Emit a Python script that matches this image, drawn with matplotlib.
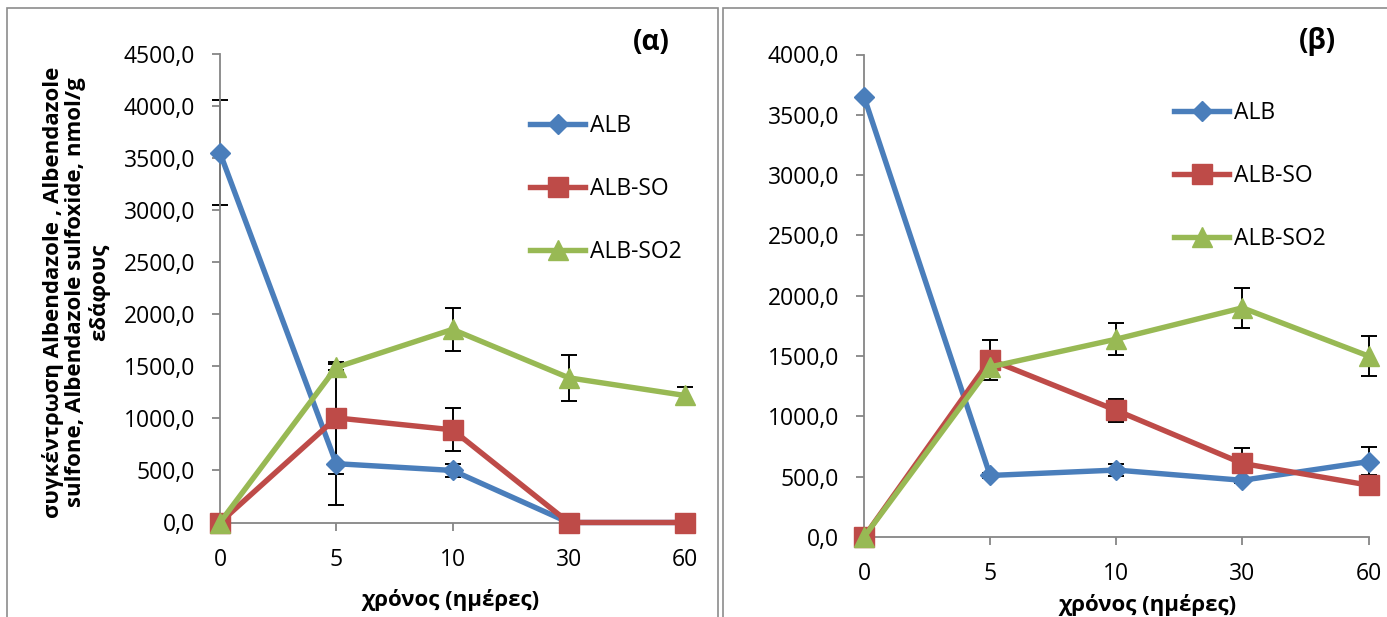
import matplotlib.pyplot as plt
from matplotlib.patches import Rectangle

plt.rcParams['font.family'] = ['Open Sans', 'DejaVu Sans']

days = ['0', '5', '10', '30', '60']
names = ['ALB', 'ALB-SO', 'ALB-SO2']
colors = ['#4A7EBB', '#BE4B48', '#98B954']
markers = ['D', 's', '^']

# panel (α)
alb_a = [3550, 565, 500, 0, 0]
alb_a_err = [505, 400, 65, 0, 0]
so_a = [0, 1005, 890, 0, 0]
so_a_err = [0, 540, 205, 0, 0]
so2_a = [0, 1490, 1855, 1390, 1220]
so2_a_err = [0, 30, 205, 220, 80]

# panel (β)
alb_b = [3650, 510, 555, 470, 625]
alb_b_err = [0, 20, 50, 20, 120]
so_b = [0, 1470, 1050, 610, 430]
so_b_err = [0, 165, 95, 125, 85]
so2_b = [0, 1410, 1640, 1900, 1500]
so2_b_err = [0, 40, 135, 165, 165]

W, H = 1387, 617
fig = plt.figure(figsize=(W / 100, H / 100), dpi=100)

# chart area frames
fig.add_artist(Rectangle((7 / W, -0.1), (718 - 7) / W, 1.1 - 8 / H, transform=fig.transFigure,
                         fill=False, ec='#8c8c8c', lw=1.2))
fig.add_artist(Rectangle((723 / W, -0.1), 0.6, 1.1 - 8 / H, transform=fig.transFigure,
                         fill=False, ec='#8c8c8c', lw=1.2))


def make_axes(px_left, px_right, px_zero, px_top):
    return fig.add_axes([px_left / W, 1 - px_zero / H,
                         (px_right - px_left) / W, (px_zero - px_top) / H])


def draw(ax, data, errs, ymax, leg_xy):
    x = list(range(len(days)))
    handles = []
    for vals, err, c, m, name in zip(data, errs, colors, markers, names):
        ax.errorbar(x, vals, yerr=err, fmt='none', ecolor='black', elinewidth=1.4,
                    capsize=6, capthick=1.4, zorder=2, clip_on=False)
        ms = 10 if m == 'D' else 14
        ln, = ax.plot(x, vals, color=c, lw=3.9, marker=m, ms=ms, mec=c, mfc=c,
                      label=name, zorder=3, clip_on=False)
        handles.append(ln)
    ax.set_xlim(0, len(days) - 1)
    ax.set_ylim(0, ymax)
    ax.set_xticks(x)
    ax.set_xticklabels(days)
    ax.set_yticks(range(0, ymax + 1, 500))
    ax.set_yticklabels([f'{v},0' for v in range(0, ymax + 1, 500)])
    for s in ['top', 'right']:
        ax.spines[s].set_visible(False)
    for s in ['left', 'bottom']:
        ax.spines[s].set_color('#868686')
        ax.spines[s].set_linewidth(1.3)
    ax.tick_params(axis='y', length=6, width=1.3, color='#868686', pad=12, labelsize=16.5)
    ax.tick_params(axis='x', length=6, width=1.3, color='#868686', pad=12, labelsize=16.5)
    ax.legend(handles=handles, loc='center left', bbox_to_anchor=leg_xy,
              bbox_transform=fig.transFigure, frameon=False, fontsize=16.5,
              handlelength=2.4, handletextpad=0.2, labelspacing=1.7,
              borderpad=0, borderaxespad=0, numpoints=1)


ax1 = make_axes(220, 685, 522.5, 54)
draw(ax1, [alb_a, so_a, so2_a], [alb_a_err, so_a_err, so2_a_err], 4500,
     (530 / W, 1 - 189 / H))

ax2 = make_axes(864, 1368.5, 537, 54.5)
draw(ax2, [alb_b, so_b, so2_b], [alb_b_err, so_b_err, so2_b_err], 4000,
     (1174 / W, 1 - 176 / H))

fig.text(76 / W, 1 - 292 / H,
         'συγκέντρωση Albendazole , Albendazole\nsulfone, Albendazole sulfoxide, nmol/g\nεδάφους',
         rotation=90, ha='center', va='center', multialignment='center',
         fontsize=16, fontweight='bold', linespacing=1.1)

fig.text(451 / W, 1 - 600 / H, 'χρόνος (ημέρες)', ha='center', va='center',
         fontsize=16, fontweight='bold')
fig.text(1148 / W, 1 - 605 / H, 'χρόνος (ημέρες)', ha='center', va='center',
         fontsize=16, fontweight='bold')

fig.text(651 / W, 1 - 42 / H, '(α)', ha='center', va='center', fontsize=20, fontweight='bold')
fig.text(1317 / W, 1 - 41 / H, '(β)', ha='center', va='center', fontsize=20, fontweight='bold')

fig.savefig('out.png', dpi=100)
